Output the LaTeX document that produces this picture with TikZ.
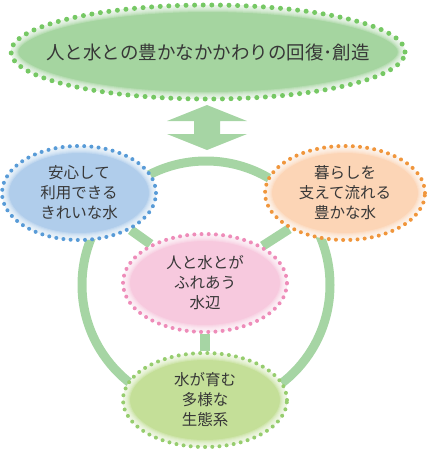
\documentclass[tikz,border=0pt]{standalone}
\usepackage{fontspec}
\newfontfamily\jp{Noto Sans CJK JP}
\usetikzlibrary{shapes.geometric,backgrounds}
\definecolor{ringg}{RGB}{166,213,164}
\definecolor{topfill}{RGB}{165,213,160}
\definecolor{topdot}{RGB}{118,200,100}
\definecolor{bluefill}{RGB}{176,205,235}
\definecolor{bluedot}{RGB}{88,155,215}
\definecolor{orfill}{RGB}{252,213,182}
\definecolor{ordot}{RGB}{240,150,60}
\definecolor{pkfill}{RGB}{247,201,222}
\definecolor{pkdot}{RGB}{238,140,185}
\definecolor{gfill}{RGB}{196,223,152}
\definecolor{gdot}{RGB}{150,205,110}
\definecolor{txt}{RGB}{55,55,55}
\tikzset{
  bubble/.style={ellipse, inner sep=0pt, text=txt, align=center,
    line width=4pt, line cap=round, dash pattern=on 0pt off 7.2pt,
    font=\jp\fontsize{15.5}{20}\selectfont},
  glow/.style 2 args={minimum width=#1pt, minimum height=#2pt,
    path picture={
      \foreach \w in {14,12,10,8,6,4,2}
        \draw[white, opacity=0.2, line width=\w pt, solid]
          (path picture bounding box.center) ellipse[x radius=#1/2, y radius=#2/2];
    }},
  spoke/.style={draw=ringg, line width=9.5pt},
}
\begin{document}
\begin{tikzpicture}[x=1pt,y=-1pt]
\useasboundingbox (0,0) rectangle (426,450);
% ring
\coordinate (rc) at (206,285);
\draw[ringg, line width=9pt] (rc) circle[radius=124];
% double arrow
\fill[ringg] (207,105) -- (247,121) -- (220,121) -- (220,134) -- (247,134) -- (207,150)
  -- (167,134) -- (194,134) -- (194,121) -- (167,121) -- cycle;
% nodes
\node[bubble, glow={394}{94}, fill=topfill, draw=topdot,
  line width=5pt, dash pattern=on 0pt off 8.6pt, font=\jp\fontsize{18.5}{22}\selectfont]
  (top) at (208,52) {\makebox[0pt]{人と水との豊かなかかわりの回復･創造}};
\node[bubble, glow={154}{94}, fill=bluefill, draw=bluedot]
  (blue) at (79,193) {安心して\\利用できる\\きれいな水};
\node[bubble, glow={160}{94}, fill=orfill, draw=ordot]
  (orange) at (345,193) {暮らしを\\支えて流れる\\豊かな水};
\node[bubble, glow={164}{98}, fill=pkfill, draw=pkdot]
  (pink) at (205,283) {人と水とが\\ふれあう\\水辺};
\node[bubble, glow={164}{94}, fill=gfill, draw=gdot]
  (green) at (205,400) {水が育む\\多様な\\生態系};
\begin{scope}[on background layer]
\draw[spoke] (blue) -- (pink);
\draw[spoke] (orange) -- (pink);
\draw[spoke] (pink) -- (green);
\end{scope}
\end{tikzpicture}
\end{document}
